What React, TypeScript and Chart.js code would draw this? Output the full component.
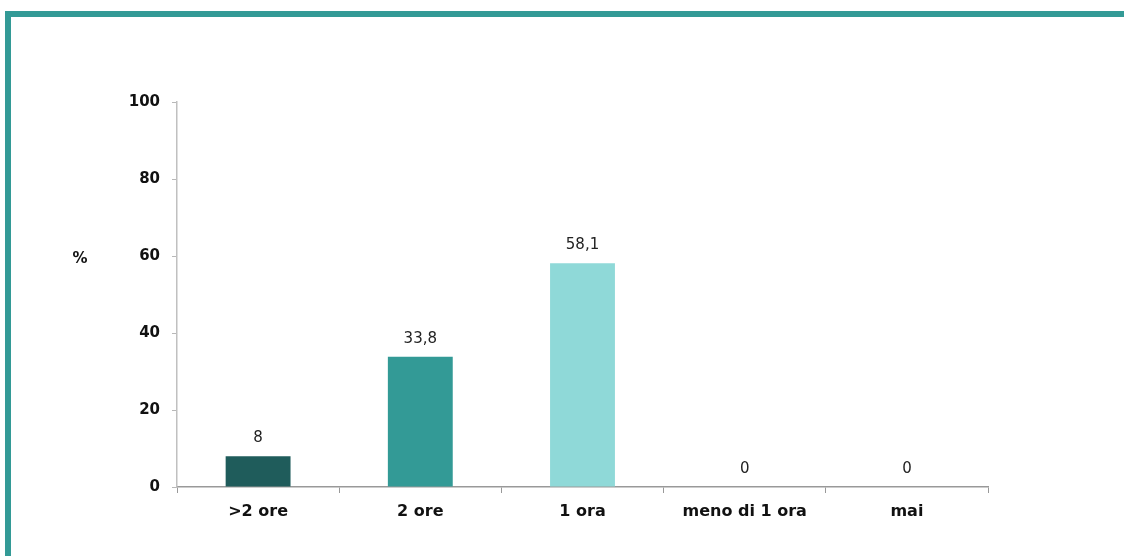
import React, { useEffect, useRef } from "react";
import { Chart, registerables } from "chart.js";

Chart.register(...registerables);

const categories = [">2 ore", "2 ore", "1 ora", "meno di 1 ora", "mai"];
const values = [8, 33.8, 58.1, 0, 0];
const valueLabels = ["8", "33,8", "58,1", "0", "0"];
const barColors = ["#1f5c5b", "#339a96", "#8fd9d8", "#8fd9d8", "#8fd9d8"];
const yTicks = [0, 20, 40, 60, 80, 100];

const FONT = "'DejaVu Sans', Verdana, sans-serif";

const labelsPlugin = {
  id: "valueLabels",
  afterDatasetsDraw(chart: any) {
    const ctx = chart.ctx;
    const meta = chart.getDatasetMeta(0);
    ctx.save();
    ctx.font = `15px ${FONT}`;
    ctx.fillStyle = "#222222";
    ctx.textAlign = "center";
    ctx.textBaseline = "middle";
    meta.data.forEach((el: any, i: number) => {
      ctx.fillText(valueLabels[i], el.x, el.y - 18);
    });
    ctx.font = `bold 15px ${FONT}`;
    ctx.fillStyle = "#111111";
    ctx.fillText("%", 80, 259);
    ctx.restore();
  },
};

export default function App() {
  const ref = useRef<HTMLCanvasElement>(null);
  useEffect(() => {
    if (!ref.current) return;
    const chart = new Chart(ref.current, {
      type: "bar",
      data: {
        labels: categories,
        datasets: [
          {
            data: values,
            backgroundColor: barColors,
            barPercentage: 0.4,
            categoryPercentage: 1,
          },
        ],
      },
      options: {
        animation: false,
        responsive: false,
        maintainAspectRatio: false,
        layout: { padding: { left: 0, right: 136, top: 102, bottom: 0 } },
        plugins: { legend: { display: false }, tooltip: { enabled: false } },
        scales: {
          x: {
            grid: {
              display: true,
              drawOnChartArea: false,
              drawTicks: true,
              tickLength: 6,
              color: "#999999",
              offset: true,
            },
            border: { color: "#999999", width: 1.5 },
            ticks: {
              color: "#111111",
              font: { family: FONT, size: 16, weight: "bold" },
              padding: 9,
              maxRotation: 0,
            },
            afterFit(scale: any) {
              scale.height = 69;
            },
          },
          y: {
            min: 0,
            max: 100,
            afterBuildTicks(scale: any) {
              scale.ticks = yTicks.map((v) => ({ value: v }));
            },
            grid: {
              display: true,
              drawOnChartArea: false,
              drawTicks: true,
              tickLength: 5,
              color: "#b8b8b8",
            },
            border: { color: "#c0c0c0", width: 1.5 },
            ticks: {
              color: "#111111",
              font: { family: FONT, size: 15, weight: "bold" },
              padding: 12,
            },
            afterFit(scale: any) {
              scale.width = 177;
            },
          },
        },
      },
      plugins: [labelsPlugin],
    });
    return () => chart.destroy();
  }, []);
  return (
    <div
      style={{
        position: "absolute",
        left: 0,
        top: 0,
        width: 1124,
        height: 556,
        background: "#ffffff",
        overflow: "hidden",
      }}
    >
      <div style={{ position: "absolute", left: 5, top: 11, width: 1119, height: 6, background: "#339a96" }} />
      <div style={{ position: "absolute", left: 5, top: 11, width: 6, height: 545, background: "#339a96" }} />
      <canvas
        ref={ref}
        width={1124}
        height={556}
        style={{ position: "absolute", left: 0, top: 0 }}
      />
    </div>
  );
}
